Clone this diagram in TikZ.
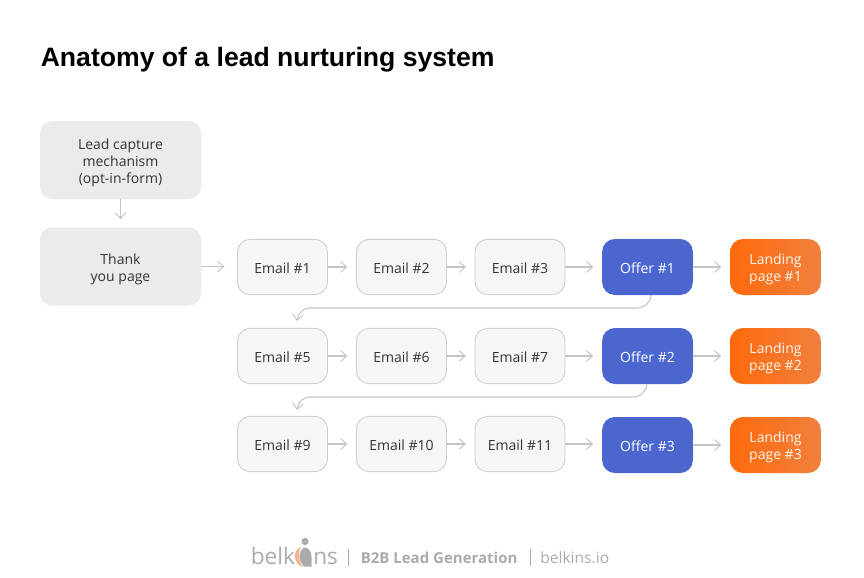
\documentclass[tikz,border=0pt]{standalone}
\usepackage{fontspec}
\setmainfont{Open Sans}
\newfontfamily\titlefont{Liberation Sans}
\usetikzlibrary{arrows.meta,calc}
\definecolor{ink}{HTML}{333333}
\definecolor{boxgrey}{HTML}{EBEBEB}
\definecolor{mailfill}{HTML}{F6F6F6}
\definecolor{mailedge}{HTML}{CFCFCF}
\definecolor{offerblue}{HTML}{4C66CF}
\definecolor{orangeL}{HTML}{FF6A0C}
\definecolor{orangeR}{HTML}{F0803E}
\definecolor{linegrey}{HTML}{C4C4C4}
\definecolor{logogrey}{HTML}{ABABAB}
\definecolor{logoorange}{HTML}{F2B48C}
\newcommand{\dropfirst}{\rule{0pt}{12.2pt}}
\newcommand{\dropone}{\rule{0pt}{9.2pt}}
\tikzset{
  x=0.75pt,y=-0.75pt,
  label text/.style={font=\fontsize{10.5pt}{12.75pt}\selectfont,align=center,text=ink},
  sidebox/.style={label text,fill=boxgrey,rounded corners=9pt,minimum width=120.75pt,minimum height=58.5pt,inner sep=0pt},
  mailbox/.style={label text,fill=mailfill,draw=mailedge,line width=0.7pt,rounded corners=9.5pt,minimum width=67.5pt,minimum height=41.5pt,inner sep=0pt},
  offerbox/.style={label text,text=white,fill=offerblue,rounded corners=9.5pt,minimum width=68pt,minimum height=42pt,inner sep=0pt},
  landbox/.style={label text,text=white!94!orange,left color=orangeL,middle color=orangeL,right color=orangeR,rounded corners=9.5pt,minimum width=68pt,minimum height=42pt,inner sep=0pt},
  flow/.style={draw=linegrey,line width=0.8pt,-{Straight Barb[length=4.5pt,width=8pt,line width=0.7pt]}},
  gapend/.style={shorten >=6.5pt},
  foot/.style={text=logogrey,inner sep=0pt,anchor=base west},
}
\begin{document}
\begin{tikzpicture}
\useasboundingbox (0,0) rectangle (864,578);
\fill[white] (0,0) rectangle (864,578);

\node[anchor=base west,inner sep=0pt,font=\titlefont\bfseries\fontsize{19.95pt}{24pt}\selectfont,text=black] (title) at (40.5,66) {Anatomy of a lead nurturing system};

\node[sidebox] (capture) at (120.5,160) {\dropfirst Lead capture\\mechanism\\(opt-in-form)};
\node[sidebox] (thanks) at (120.5,266.5) {\dropfirst Thank\\you page};

\foreach \nm/\txt/\cx/\cy in {
  e1/Email \#1/282.5/267, e2/Email \#2/401.5/267, e3/Email \#3/520/267,
  e5/Email \#5/282.5/356, e6/Email \#6/401.5/356, e7/Email \#7/520/356,
  e9/Email \#9/282.5/444, e10/Email \#10/401.5/444, e11/Email \#11/520/444}
  {\node[mailbox] (\nm) at (\cx,\cy) {\dropone\txt};}

\foreach \nm/\txt/\cy in {o1/Offer \#1/267, o2/Offer \#2/356, o3/Offer \#3/445}
  {\node[offerbox] (\nm) at (647.5,\cy) {\dropone\txt};}

\foreach \nm/\n/\cy in {l1/1/267, l2/2/356, l3/3/445}
  {\node[landbox] (\nm) at (775.5,\cy) {\dropfirst Landing\\page \#\n};}

\draw[flow,shorten >=6pt] (capture.south) -- (thanks.north);
\draw[flow,shorten >=9.5pt] (thanks.east) -- (thanks.east -| e1.west);
\foreach \a/\b in {e1/e2,e2/e3,e5/e6,e6/e7,e9/e10,e10/e11}
  {\draw[flow,gapend] (\a.east) -- (\a.east -| \b.west);}
\foreach \a/\b in {e3/o1,e7/o2,e11/o3}
  {\draw[flow,gapend] (\a.east) -- (\a.east -| \b.west);}
\foreach \a/\b in {o1/l1,o2/l2,o3/l3}
  {\draw[flow,gapend] (\a.east) -- (\a.east -| \b.west);}

\coordinate (r1end) at (297,321);
\coordinate (r2end) at (297,410);
\draw[flow] (651,295) .. controls (650,303) and (645,308) .. (636,308)
  -- (310,308) .. controls (303,308) and (298,313) .. (r1end);
\draw[flow] (647,384) .. controls (646,392) and (641,397) .. (632,397)
  -- (310,397) .. controls (303,397) and (298,402) .. (r2end);

% footer
\node[foot,font=\fontsize{17pt}{20pt}\selectfont] (brandA) at (250.5,564) {belk};
\node[foot,font=\fontsize{17pt}{20pt}\selectfont] (brandB) at (313,564) {ns};
\fill[logogrey] (305,541.5) circle (3.6);
\fill[logoorange] (301,547) .. controls (292,550) and (293,564) .. (303,567) .. controls (298,560) and (298,552) .. (301,547) -- cycle;
\fill[logogrey] (304,547.5) .. controls (311,547.5) and (312,553) .. (311.5,566.5) -- (304,566.5) .. controls (298,560) and (298,552) .. (304,547.5) -- cycle;
\draw[logogrey,line width=0.7pt] (348,549) -- (348,566);
\node[foot,font=\bfseries\fontsize{11.25pt}{13pt}\selectfont] (tag) at (360.5,563) {B2B Lead Generation};
\draw[logogrey,line width=0.7pt] (530,549) -- (530,566);
\node[foot,font=\fontsize{11.7pt}{13pt}\selectfont] (site) at (540,563) {belkins.io};
\end{tikzpicture}
\end{document}
